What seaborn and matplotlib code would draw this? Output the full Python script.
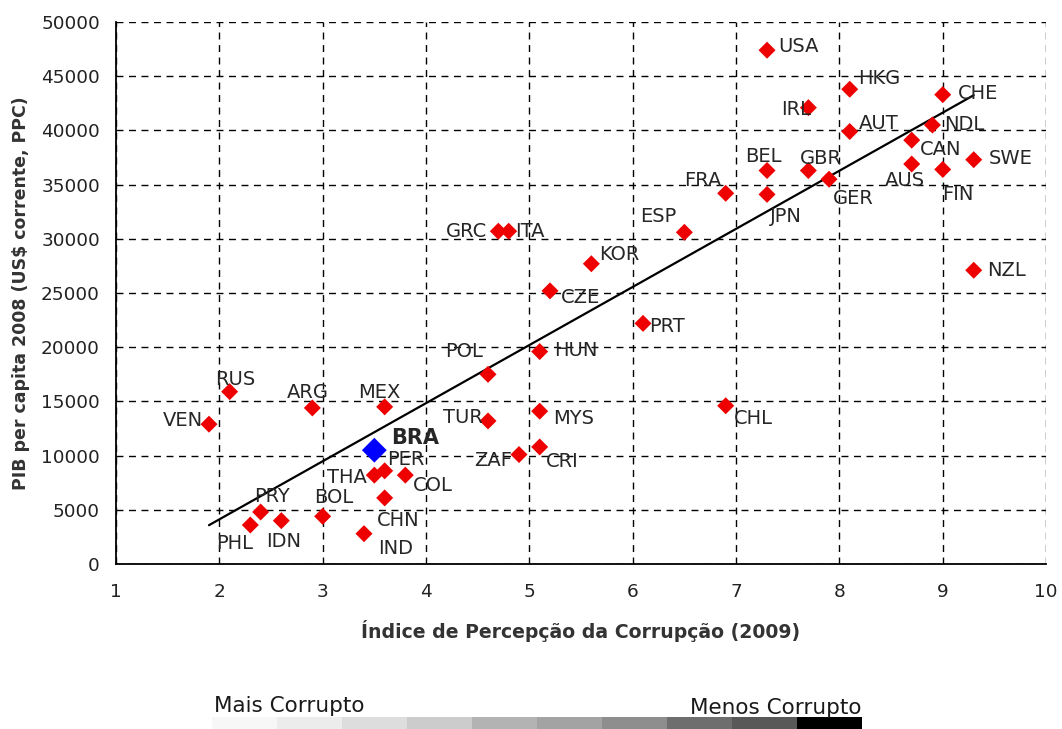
import numpy as np
import pandas as pd
import matplotlib
matplotlib.use("Agg")
import matplotlib.pyplot as plt
import seaborn as sns

# dados
paises = ["USA", "HKG", "IRL", "CHE", "AUT", "NDL", "CAN", "BEL", "GBR", "GER",
          "AUS", "FIN", "SWE", "FRA", "JPN", "ESP", "NZL", "GRC", "ITA", "KOR",
          "CZE", "PRT", "POL", "HUN", "TUR", "MYS", "CRI", "ZAF", "CHL", "RUS",
          "ARG", "MEX", "VEN", "BRA", "PER", "THA", "COL", "CHN", "IND", "BOL",
          "PRY", "PHL", "IDN"]
ipc = [7.3, 8.1, 7.7, 9.0, 8.1, 8.9, 8.7, 7.3, 7.7, 7.9,
       8.7, 9.0, 9.3, 6.9, 7.3, 6.5, 9.3, 4.7, 4.8, 5.6,
       5.2, 6.1, 4.6, 5.1, 4.6, 5.1, 5.1, 4.9, 6.9, 2.1,
       2.9, 3.6, 1.9, 3.5, 3.6, 3.5, 3.8, 3.6, 3.4, 3.0,
       2.4, 2.3, 2.6]
pib = [47400, 43800, 42100, 43300, 39900, 40500, 39100, 36300, 36300, 35500,
       36900, 36400, 37300, 34200, 34100, 30600, 27100, 30700, 30700, 27700,
       25200, 22200, 17500, 19600, 13200, 14100, 10800, 10100, 14600, 15900,
       14400, 14500, 12900, 10500, 8600, 8200, 8200, 6100, 2800, 4400,
       4800, 3600, 4000]
# reta de tendencia (inclinacao, intercepto)
tend_incl = 5360
tend_inter = -6600
escala = ["Mais Corrupto", "Menos Corrupto"]
tons = [247, 236, 221, 204, 180, 164, 142, 110, 88, 0]

# posicao dos rotulos (pixels a partir do ponto)
offs = {
    "USA": (11, 4, "left"), "HKG": (8, 11, "left"), "IRL": (-12, -2, "center"),
    "CHE": (15, 1, "left"), "AUT": (9, 8, "left"), "NDL": (12, 0, "left"),
    "CAN": (8, -9, "left"), "BEL": (-4, 14, "center"), "GBR": (12, 12, "center"),
    "GER": (4, -19, "left"), "AUS": (-7, -16, "center"), "FIN": (15, -25, "center"),
    "SWE": (15, 1, "left"), "FRA": (-4, 13, "right"), "JPN": (3, -22, "left"),
    "ESP": (-8, 16, "right"), "NZL": (13, 0, "left"), "GRC": (-11, 0, "right"),
    "ITA": (6, 0, "left"), "KOR": (8, 9, "left"), "CZE": (11, -7, "left"),
    "PRT": (6, -3, "left"), "POL": (-5, 23, "right"), "HUN": (14, 1, "left"),
    "TUR": (-5, 3, "right"), "MYS": (13, -7, "left"), "CRI": (6, -15, "left"),
    "ZAF": (-7, -6, "right"), "CHL": (8, -13, "left"), "RUS": (6, 12, "center"),
    "ARG": (-4, 15, "center"), "MEX": (-5, 14, "center"), "VEN": (-6, 4, "right"),
    "BRA": (17, 12, "left"), "PER": (2, 11, "left"), "THA": (-7, -2, "right"),
    "COL": (8, -10, "left"), "CHN": (-8, -23, "left"), "IND": (14, -15, "left"),
    "BOL": (11, 19, "center"), "PRY": (11, 15, "center"), "PHL": (-16, -18, "center"),
    "IDN": (2, -21, "center"),
}

df = pd.DataFrame({"pais": paises, "ipc": ipc, "pib": pib})
br = df[df.pais == "BRA"]
resto = df[df.pais != "BRA"]
xs = np.array([df.ipc.min(), df.ipc.max()])
linha = pd.DataFrame({"ipc": xs, "pib": tend_incl * xs + tend_inter})

sns.set_style("white")
plt.rcParams["font.family"] = ["DejaVu Sans"]

fig = plt.figure(figsize=(10.62, 7.29), dpi=100)
ax = fig.add_axes([0.1092, 0.2263, 0.8758, 0.7435])

ax.grid(True, ls=(0, (5, 4)), color="black", lw=1)
ax.set_axisbelow(True)

sns.lineplot(data=linha, x="ipc", y="pib", color="black", lw=1.6, ax=ax, zorder=3)
sns.scatterplot(data=resto, x="ipc", y="pib", marker="D", s=75, color="#ee0000",
                edgecolor="none", ax=ax, zorder=4)
sns.scatterplot(data=br, x="ipc", y="pib", marker="D", s=160, color="#0000ff",
                edgecolor="none", ax=ax, zorder=5)

for p, x, y in zip(paises, ipc, pib):
    dx, dy, ha = offs[p]
    big = p == "BRA"
    ax.annotate(p, (x, y), xytext=(dx, dy), textcoords="offset pixels",
                ha=ha, va="center", fontsize=15 if big else 14,
                fontweight="bold" if big else "normal", color="#262626", zorder=6)

ax.set_xlim(1, 10)
ax.set_ylim(0, 50000)
ax.set_xticks(range(1, 11))
ax.set_yticks(range(0, 50001, 5000))
for s in ["top", "right"]:
    ax.spines[s].set_visible(False)
for s in ["left", "bottom"]:
    ax.spines[s].set_color("black")
    ax.spines[s].set_linewidth(1.3)
ax.tick_params(direction="inout", length=9, width=1.2, color="black",
               labelsize=13.3, labelcolor="#222222")
ax.tick_params(axis="y", pad=7)
ax.tick_params(axis="x", pad=9)
ax.set_xlabel("Índice de Percepção da Corrupção (2009)", fontsize=13.6,
              fontweight="bold", color="#333333", labelpad=14)
ax.set_ylabel("PIB per capita 2008 (US$ corrente, PPC)", fontsize=12.5,
              fontweight="bold", color="#333333", labelpad=8)

# barra de escala em cinza
bx = fig.add_axes([212 / 1062, 0, 650 / 1062, 12 / 729])
bx.imshow(np.array([tons]), cmap="gray", vmin=0, vmax=255, aspect="auto")
bx.axis("off")
fig.text(214 / 1062, 1 - 706 / 729, escala[0], fontsize=15.5, color="#1a1a1a",
         ha="left", va="center")
fig.text(862 / 1062, 1 - 708 / 729, escala[1], fontsize=15.5, color="#1a1a1a",
         ha="right", va="center")

fig.savefig("out.png", dpi=100, facecolor="white")
